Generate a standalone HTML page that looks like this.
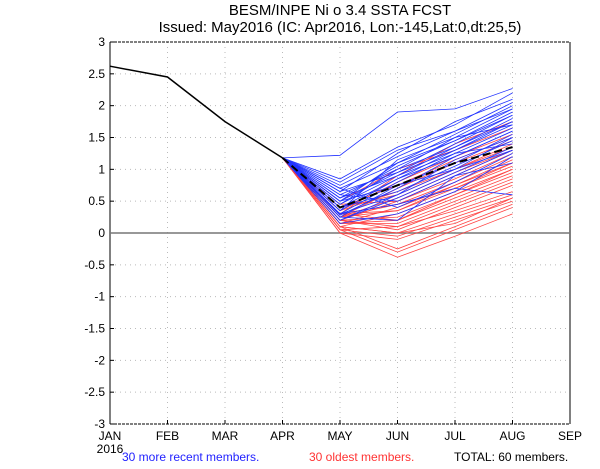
<!DOCTYPE html>
<html><head><meta charset="utf-8"><style>
body{margin:0;background:#fff;width:600px;height:464px;overflow:hidden}
svg{font-family:"Liberation Sans",sans-serif}
</style></head><body>
<svg id="c" width="600" height="464">
<text x="340" y="15" text-anchor="middle" font-size="15">BESM/INPE Ni o 3.4 SSTA FCST</text>
<text x="340" y="32" text-anchor="middle" font-size="15">Issued: May2016 (IC: Apr2016, Lon:-145,Lat:0,dt:25,5)</text>
<text x="122" y="461" font-size="12" fill="#2222ff">30 more recent members.</text>
<text x="309" y="461" font-size="12" fill="#ff3333">30 oldest members.</text>
<text x="454" y="461" font-size="12" fill="#000">TOTAL: 60 members.</text>
</svg>
<script>
const months=["JAN","FEB","MAR","APR","MAY","JUN","JUL","AUG","SEP"];
const yTicks=[3,2.5,2,1.5,1,0.5,0,-0.5,-1,-1.5,-2,-2.5,-3];
const observed=[2.62,2.45,1.75,1.18];
const ensMean=[1.18,0.4,0.75,1.1,1.35];
const blueMembers=[[1.22,1.9,1.95,2.27],[0.85,1.35,1.7,2.2],[0.75,1.2,1.6,2.05],[0.7,1.1,1.55,2.0],[0.65,1.25,1.75,2.1],[0.6,1.0,1.5,1.95],[0.55,1.05,1.45,1.9],[0.5,0.95,1.4,1.85],[0.45,0.9,1.35,1.8],[0.4,0.85,1.3,1.75],[0.35,1.15,1.5,1.7],[0.3,0.8,1.25,1.65],[0.28,0.7,1.2,1.6],[0.25,0.75,1.1,1.55],[0.3,0.6,1.0,1.5],[0.4,0.65,1.05,1.45],[0.55,0.9,1.25,1.4],[0.2,0.55,0.95,1.35],[0.6,0.5,0.9,1.3],[0.7,0.4,0.8,1.25],[0.3,0.45,0.7,0.6],[0.15,0.3,0.65,1.2],[0.25,0.2,0.9,1.1],[0.45,1.0,1.35,1.75],[0.8,1.3,1.6,1.95],[0.5,1.1,1.45,1.85],[0.35,0.85,1.2,1.6],[0.65,0.95,1.3,1.7],[0.2,0.6,1.15,1.5],[0.5,0.75,1.0,1.3]];
const redMembers=[[0.3,0.9,1.4,1.75],[0.35,0.8,1.2,1.55],[0.25,0.7,1.1,1.45],[0.4,0.6,1.0,1.4],[0.2,0.5,0.9,1.3],[0.3,0.45,0.8,1.2],[0.15,0.4,0.75,1.15],[0.25,0.35,0.7,1.1],[0.1,0.3,0.65,1.0],[0.2,0.25,0.6,0.95],[0.3,0.2,0.55,0.9],[0.15,0.15,0.5,0.85],[0.05,0.1,0.45,0.8],[0.2,0.05,0.4,0.75],[0.1,0.0,0.3,0.6],[0.05,-0.05,0.25,0.55],[0.0,-0.1,0.2,0.5],[0.1,-0.25,0.1,0.45],[0.05,-0.3,0.05,0.4],[0.0,-0.38,-0.05,0.3],[0.45,0.5,0.85,1.25],[0.35,0.65,1.0,1.35],[0.25,0.55,0.95,1.3],[0.5,1.0,1.3,1.65],[0.15,0.2,0.6,1.0],[0.3,0.35,0.75,1.1],[0.2,0.1,0.35,0.65],[0.1,0.0,0.15,0.55],[0.4,0.75,1.15,1.5],[0.25,0.45,0.7,1.05]];
const svg=document.getElementById('c');const NS="http://www.w3.org/2000/svg";
const L=110,R=570,T=42,B=424;
const X=i=>L+i*(R-L)/(months.length-1);
const Y=v=>T+(3-v)*(B-T)/6;
function mk(t,a){const e=document.createElementNS(NS,t);for(const k in a)e.setAttribute(k,a[k]);svg.appendChild(e);return e;}
months.forEach((m,i)=>{if(i>0&&i<months.length-1){const g=mk('line',{x1:X(i),x2:X(i),y1:T,y2:B,stroke:'#bbb','stroke-dasharray':'1,4'});

}
const t=mk('text',{x:X(i),y:B+16,'text-anchor':'middle','font-size':'12'});t.textContent=m;


mk('line',{x1:X(i),x2:X(i),y1:B,y2:B-4,stroke:'#000'});});
const yr=mk('text',{x:X(0),y:B+29,'text-anchor':'middle','font-size':'12'});yr.textContent='2016';


yTicks.forEach(v=>{if(v!==3&&v!==-3&&v!==0){const g=mk('line',{x1:L,x2:R,y1:Y(v),y2:Y(v),stroke:'#bbb','stroke-dasharray':'1,4'});

}
mk('line',{x1:L,x2:L+4,y1:Y(v),y2:Y(v),stroke:'#000'});
const t=mk('text',{x:L-5,y:Y(v)+4,'text-anchor':'end','font-size':'12'});t.textContent=v;

});
mk('line',{x1:L,x2:R,y1:T,y2:T,stroke:'#000','stroke-dasharray':'3,1'});
mk('line',{x1:L,x2:R,y1:B,y2:B,stroke:'#000','stroke-dasharray':'3,1'});
mk('line',{x1:L,x2:L,y1:T,y2:B,stroke:'#000'});
mk('line',{x1:R,x2:R,y1:T,y2:B,stroke:'#000'});
const z=mk('line',{x1:L,x2:R,y1:Y(0),y2:Y(0),stroke:'#777','stroke-width':1.5});


function path(vals,start){return vals.map((v,i)=>(i?'L':'M')+X(start+i).toFixed(1)+','+Y(v).toFixed(1)).join('');}
redMembers.forEach((m,k)=>{const p=mk('path',{d:path([observed[3]].concat(m),3),fill:'none',stroke:'#ff4444','stroke-width':0.8});

});
blueMembers.forEach((m,k)=>{const p=mk('path',{d:path([observed[3]].concat(m),3),fill:'none',stroke:'#2233ff','stroke-width':0.8});

});
const em=mk('path',{d:path(ensMean,3),fill:'none',stroke:'#000','stroke-width':2,'stroke-dasharray':'8,4'});


const ob=mk('path',{d:path(observed,0),fill:'none',stroke:'#000','stroke-width':1.5});


</script>
</body></html>
